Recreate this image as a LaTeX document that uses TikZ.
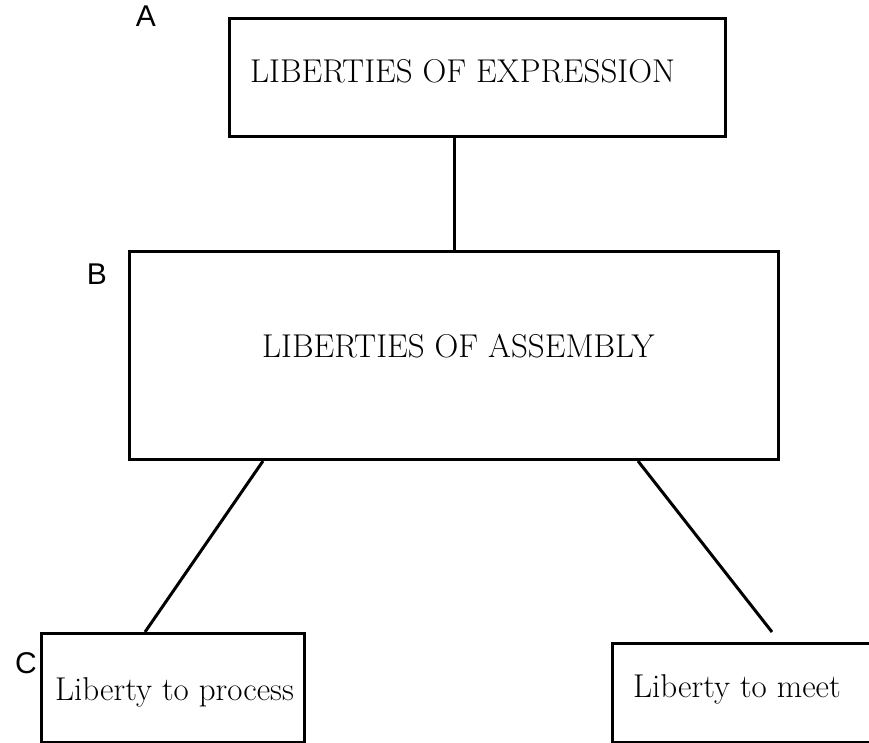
\documentclass[tikz,border=0pt]{standalone}
\usepackage{fontspec}
\newfontfamily\lblfont{Liberation Sans}
\usetikzlibrary{positioning}
\tikzset{
  box/.style ={draw,line width=3pt,inner sep=0pt,anchor=north west},
  txt/.style ={font=\fontsize{33}{40}\selectfont,inner sep=0pt,anchor=base west},
  tag/.style ={font=\lblfont\fontsize{30}{36}\selectfont,inner sep=0pt},
  link/.style={line width=3pt},
}

\begin{document}
\begin{tikzpicture}[x=1pt,y=-1pt]
  \clip (0,0) rectangle (869,743);
  % boxes
  \node[box,minimum width=496pt,minimum height=118pt] (boxA) at (228,17) {};
  \node[box,minimum width=649pt,minimum height=208pt] (boxB) at (128,250) {};
  \node[box,minimum width=263pt,minimum height=109pt] (boxC) at (40,632) {};
  \node[box,minimum width=300pt,minimum height=99pt]  (boxD) at (611,642) {};
  % texts
  \node[txt] (txtA) at (250,83)  {LIBERTIES OF EXPRESSION};
  \node[txt] (txtB) at (262,357) {LIBERTIES OF ASSEMBLY};
  \node[txt] (txtC) at (55,700)  {Liberty to process};
  \node[txt] (txtD) at (633,697) {Liberty to meet};
  % letters
  \node[tag] (tagA) at (146,16)  {A};
  \node[tag] (tagB) at (97,274)  {B};
  \node[tag] (tagC) at (26,663)  {C};
  % connectors
  \coordinate (axis) at (454,0);
  \coordinate (bl) at (263,0);
  \coordinate (cl) at (145,0);
  \coordinate (br) at (638,0);
  \coordinate (dend) at (772,632);
  \draw[link] (boxA.south -| axis) -- (boxB.north -| axis);
  \draw[link] (boxB.south -| bl) -- (boxC.north -| cl);
  \draw[link] (boxB.south -| br) -- (dend);
\end{tikzpicture}
\end{document}
